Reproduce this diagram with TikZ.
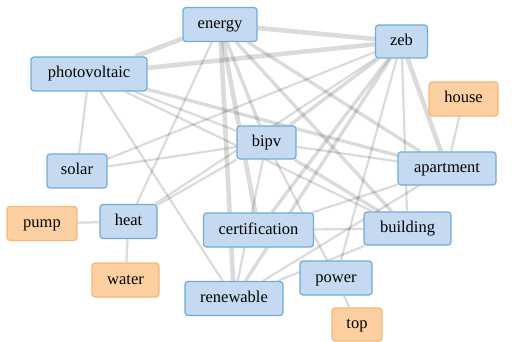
\documentclass[tikz,border=0pt]{standalone}
\usepackage{fontspec}
\setmainfont{Liberation Serif}
\usetikzlibrary{backgrounds}
\definecolor{kwfill}{RGB}{197,218,240}
\definecolor{kwline}{RGB}{112,172,216}
\definecolor{leaffill}{RGB}{253,208,162}
\definecolor{leafline}{RGB}{248,182,120}
\tikzset{
  kw/.style={draw=kwline, fill=kwfill, line width=1.2pt, rounded corners=3pt,
    inner sep=0pt, text height=12pt, text depth=4pt,
    font=\fontsize{16.5}{18}\selectfont},
  leaf/.style={kw, draw=leafline, fill=leaffill},
  link/.style={draw=black, draw opacity=0.14, line width=2.2pt},
  mid/.style={link, line width=3.4pt},
  heavy/.style={link, line width=4.6pt},
}
\begin{document}
\begin{tikzpicture}[x=1pt, y=-1pt]
\useasboundingbox (0,0) rectangle (522,342);

% keyword boxes
\node[kw, minimum width=74pt, minimum height=34pt]  (energy) at (220,24.5) {energy};
\node[kw, minimum width=52pt, minimum height=33pt]  (zeb) at (401.5,41.5) {zeb};
\node[kw, minimum width=116pt, minimum height=34pt] (pv) at (89,74) {photovoltaic};
\node[leaf, minimum width=69pt, minimum height=34pt] (house) at (463.5,99) {house};
\node[kw, minimum width=59pt, minimum height=33pt]  (bipv) at (266.5,142.5) {bipv};
\node[kw, minimum width=60pt, minimum height=34pt]  (solar) at (77,171) {solar};
\node[kw, minimum width=98pt, minimum height=33pt]  (apartment) at (447,168.5) {apartment};
\node[leaf, minimum width=70pt, minimum height=34pt] (pump) at (42,223.5) {pump};
\node[kw, minimum width=57pt, minimum height=34pt]  (heat) at (128.5,221.5) {heat};
\node[kw, minimum width=110pt, minimum height=34pt] (cert) at (258.5,230) {certification};
\node[kw, minimum width=87pt, minimum height=33pt]  (building) at (407.5,228.5) {building};
\node[leaf, minimum width=67pt, minimum height=34pt] (water) at (125.5,280) {water};
\node[kw, minimum width=98pt, minimum height=34pt]  (renewable) at (234,298.5) {renewable};
\node[kw, minimum width=72pt, minimum height=34pt]  (power) at (336,278) {power};
\node[leaf, minimum width=50pt, minimum height=33pt] (top) at (357,324.5) {top};

\begin{pgfonlayer}{background}
  \fill[white] (0,0) rectangle (522,342);
  % strongest links
  \draw[heavy] (energy) -- (zeb);
  \draw[heavy] (pv) -- (zeb);
  \draw[heavy] (energy) -- (pv);
  \draw[heavy] (energy) -- (cert);
  \draw[heavy] (energy) -- (renewable);
  \draw[heavy] (zeb) -- (apartment);
  % medium links
  \draw[mid] (energy) -- (building);
  \draw[mid] (energy) -- (bipv);
  \draw[mid] (energy) -- (apartment);
  \draw[mid] (zeb) -- (bipv);
  \draw[mid] (zeb) -- (cert);
  \draw[mid] (zeb) -- (renewable);
  \draw[mid] (pv) -- (apartment);
  \draw[mid] (bipv) -- (building);
  % weaker links
  \draw[link] (pv) -- (solar);
  \draw[link] (pv) -- (renewable);
  \draw[link] (pv) -- (bipv);
  \draw[link] (pv) -- (building);
  \draw[link] (solar) -- (bipv);
  \draw[link] (solar) -- (zeb);
  \draw[link] (heat) -- (bipv);
  \draw[link] (energy) -- (heat);
  \draw[link] (heat) -- (pump);
  \draw[link] (heat) -- (water);
  \draw[link] (house) -- (apartment);
  \draw[link] (power) -- (top);
  \draw[link] (zeb) -- (power);
  \draw[link] (bipv) -- (power);
  \draw[link] (cert) -- (building);
  \draw[link] (zeb) -- (building);
  \draw[link] (bipv) -- (apartment);
  \draw[link] (bipv) -- (renewable);
  \draw[link] (renewable) -- (apartment);
  \draw[link] (renewable) -- (building);
  \draw[link] (cert) -- (apartment);
  \draw[link] (zeb) -- (heat);
\end{pgfonlayer}
\end{tikzpicture}
\end{document}
